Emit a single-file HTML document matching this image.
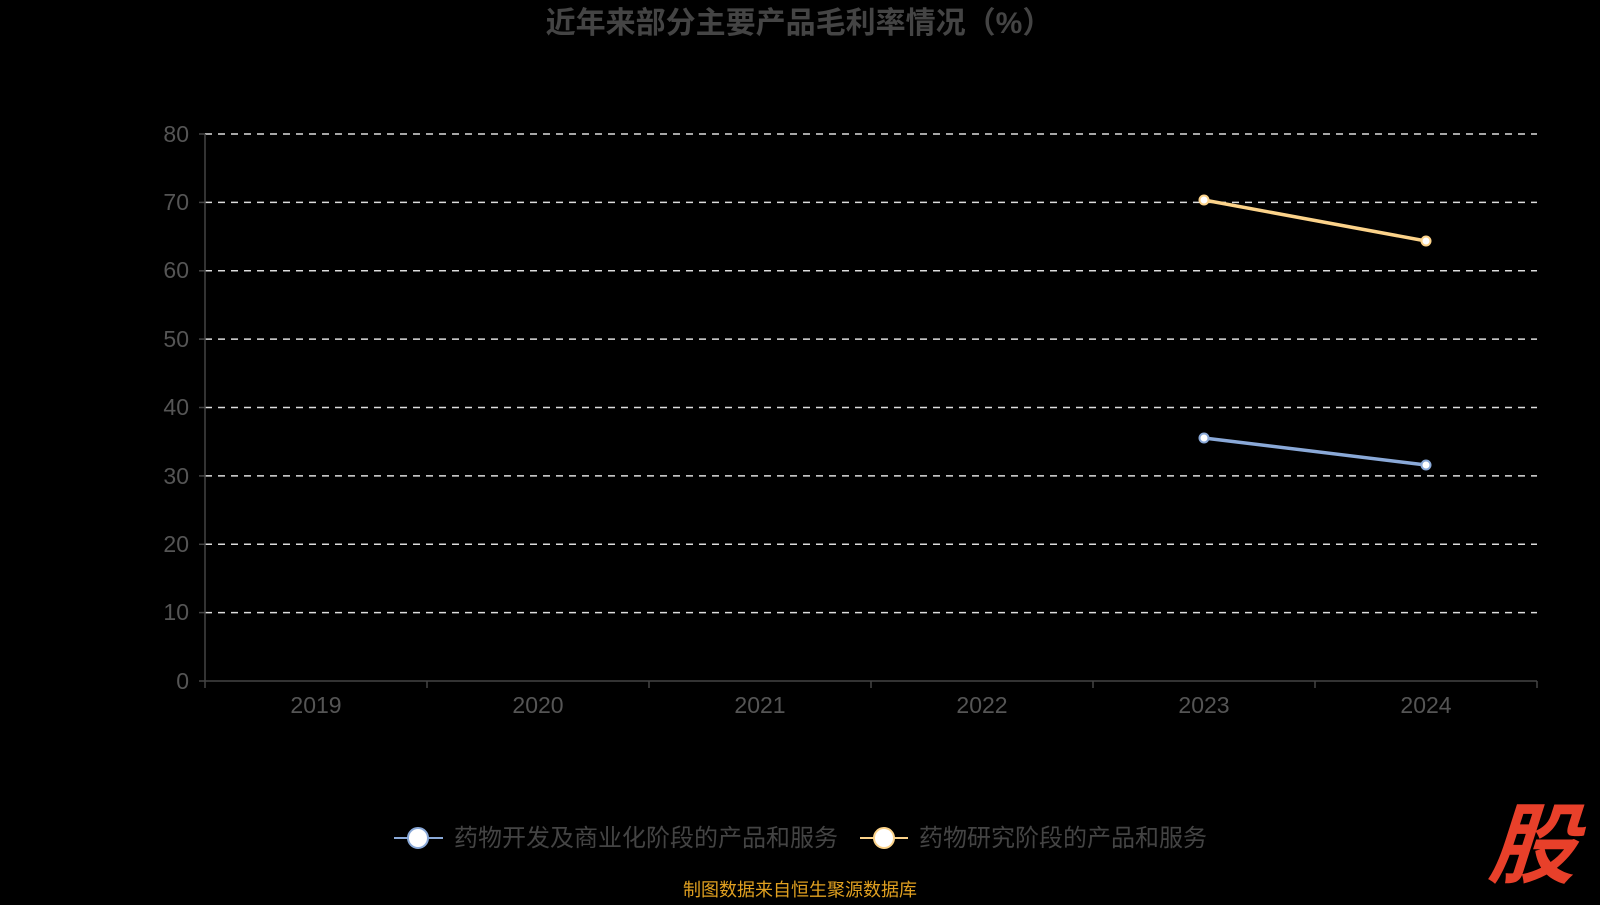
<!DOCTYPE html>
<html><head><meta charset="utf-8"><style>
body{margin:0;background:#000;width:1600px;height:900px;overflow:hidden}
svg text{font-family:"Liberation Sans","Noto Sans CJK SC",sans-serif}
</style></head><body>
<svg width="1600" height="900" xmlns="http://www.w3.org/2000/svg">
<text x="799" y="33" text-anchor="middle" font-size="30" font-weight="bold" fill="#444">近年来部分主要产品毛利率情况（%）</text>
<g stroke="#ddd" stroke-width="1.5" stroke-dasharray="7,6">
<line x1="205" y1="134" x2="1537" y2="134"/><line x1="205" y1="202.4" x2="1537" y2="202.4"/>
<line x1="205" y1="270.8" x2="1537" y2="270.8"/><line x1="205" y1="339.1" x2="1537" y2="339.1"/>
<line x1="205" y1="407.5" x2="1537" y2="407.5"/><line x1="205" y1="475.9" x2="1537" y2="475.9"/>
<line x1="205" y1="544.3" x2="1537" y2="544.3"/><line x1="205" y1="612.6" x2="1537" y2="612.6"/>
</g>
<g stroke="#444" stroke-width="1.5">
<line x1="205" y1="134" x2="205" y2="681"/><line x1="205" y1="681" x2="1537" y2="681"/>
<line x1="205" y1="681" x2="205" y2="688"/><line x1="427" y1="681" x2="427" y2="688"/><line x1="649" y1="681" x2="649" y2="688"/><line x1="871" y1="681" x2="871" y2="688"/><line x1="1093" y1="681" x2="1093" y2="688"/><line x1="1315" y1="681" x2="1315" y2="688"/><line x1="1537" y1="681" x2="1537" y2="688"/>
<line x1="199" y1="134" x2="205" y2="134"/><line x1="199" y1="202.4" x2="205" y2="202.4"/><line x1="199" y1="270.8" x2="205" y2="270.8"/><line x1="199" y1="339.1" x2="205" y2="339.1"/><line x1="199" y1="407.5" x2="205" y2="407.5"/><line x1="199" y1="475.9" x2="205" y2="475.9"/><line x1="199" y1="544.3" x2="205" y2="544.3"/><line x1="199" y1="612.6" x2="205" y2="612.6"/><line x1="199" y1="681" x2="205" y2="681"/>
</g>
<g font-size="23" fill="#555" text-anchor="end">
<text x="189" y="142">80</text><text x="189" y="210">70</text><text x="189" y="278">60</text><text x="189" y="347">50</text><text x="189" y="415">40</text><text x="189" y="484">30</text><text x="189" y="552">20</text><text x="189" y="620">10</text><text x="189" y="689">0</text>
</g>
<g font-size="23" fill="#555" text-anchor="middle">
<text x="316" y="713">2019</text><text x="538" y="713">2020</text><text x="760" y="713">2021</text><text x="982" y="713">2022</text><text x="1204" y="713">2023</text><text x="1426" y="713">2024</text>
</g>
<line x1="1204" y1="200" x2="1426" y2="241" stroke="#fcd38a" stroke-width="3.5"/>
<line x1="1204" y1="438" x2="1426" y2="465" stroke="#8aa9d8" stroke-width="3.5"/>
<g fill="#fff" stroke-width="2">
<circle cx="1204" cy="200" r="4.5" stroke="#fcd38a"/><circle cx="1426" cy="241" r="4.5" stroke="#fcd38a"/>
<circle cx="1204" cy="438" r="4.5" stroke="#8aa9d8"/><circle cx="1426" cy="465" r="4.5" stroke="#8aa9d8"/>
</g>
<line x1="394" y1="838" x2="443" y2="838" stroke="#8aa9d8" stroke-width="2"/>
<circle cx="418" cy="838" r="10" fill="#fff" stroke="#8aa9d8" stroke-width="2"/>
<text x="454" y="846" font-size="24" fill="#444">药物开发及商业化阶段的产品和服务</text>
<line x1="860" y1="838" x2="908" y2="838" stroke="#fcd38a" stroke-width="2"/>
<circle cx="884" cy="838" r="10" fill="#fff" stroke="#fcd38a" stroke-width="2"/>
<text x="919" y="846" font-size="24" fill="#444">药物研究阶段的产品和服务</text>
<text x="800" y="896" text-anchor="middle" font-size="18" fill="#e0a020">制图数据来自恒生聚源数据库</text>
<text x="1532" y="876" text-anchor="middle" font-size="88" font-weight="bold" font-style="italic" fill="#e8402a" transform="skewX(-4) translate(60,0)">股</text>
</svg>
</body></html>
